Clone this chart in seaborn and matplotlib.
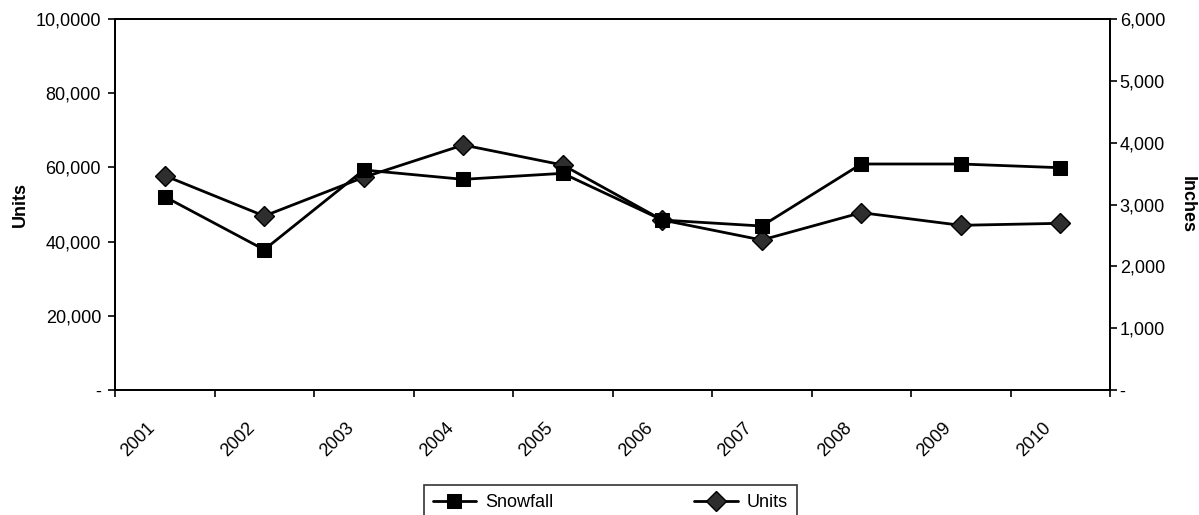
import numpy as np
import pandas as pd
import matplotlib
matplotlib.use("Agg")
import matplotlib.pyplot as plt
import matplotlib.transforms as mtransforms
import seaborn as sns

years = ["2001", "2002", "2003", "2004", "2005", "2006", "2007", "2008", "2009", "2010"]
snowfall_inches = [3126, 2269, 3558, 3407, 3504, 2749, 2652, 3655, 3655, 3595]
units = [57770, 46900, 57330, 66040, 60650, 45820, 40430, 47800, 44390, 44930]
left_ticks = [0, 20000, 40000, 60000, 80000, 100000]
left_labels = ["-", "20,000", "40,000", "60,000", "80,000", "10,0000"]
right_ticks = [0, 1000, 2000, 3000, 4000, 5000, 6000]
right_labels = ["-", "1,000", "2,000", "3,000", "4,000", "5,000", "6,000"]

sns.set_style("ticks")
plt.rcParams["font.family"] = ["Liberation Sans", "DejaVu Sans"]
plt.rcParams["text.color"] = "black"
plt.rcParams["axes.labelcolor"] = "black"
plt.rcParams["xtick.color"] = "black"
plt.rcParams["ytick.color"] = "black"
plt.rcParams["xtick.labelcolor"] = "black"
plt.rcParams["ytick.labelcolor"] = "black"

FS = 13

df = pd.DataFrame({"pos": np.arange(len(years)), "Year": years,
                   "Snowfall": snowfall_inches, "Units": units})

fig = plt.figure(figsize=(11.99, 5.15), dpi=100)
ax = fig.add_axes([115 / 1199, 1 - 390 / 515, (1110 - 115) / 1199, (390 - 19) / 515])
ax2 = ax.twinx()

sns.lineplot(data=df, x="pos", y="Units", ax=ax, color="black", linewidth=2.0,
             marker="D", markersize=10, markerfacecolor="#2e2e2e",
             markeredgecolor="black", markeredgewidth=1.0, label="Units", legend=False)
sns.lineplot(data=df, x="pos", y="Snowfall", ax=ax2, color="black", linewidth=2.0,
             marker="s", markersize=9.5, markerfacecolor="black",
             markeredgecolor="black", label="Snowfall", legend=False)

ax.set_xlim(-0.5, len(years) - 0.5)
ax.set_ylim(0, 100000)
ax2.set_ylim(0, 6000)

ax.set_xticks(np.arange(-0.5, len(years), 1.0))
ax.set_xticklabels([])
ax.set_xticks(np.arange(len(years)), minor=True)
ax.set_xticklabels(years, minor=True, rotation=45, ha="right", va="top",
                   rotation_mode="anchor", fontsize=FS)
ax.tick_params(axis="x", which="major", direction="out", length=5, width=1.2, color="black")
ax.tick_params(axis="x", which="minor", length=0, pad=21)
offset = mtransforms.ScaledTranslation(-18 / 100, 0, fig.dpi_scale_trans)
for lab in ax.get_xticklabels(minor=True):
    lab.set_transform(lab.get_transform() + offset)

ax.set_yticks(left_ticks)
ax.set_yticklabels(left_labels, fontsize=FS)
ax.tick_params(axis="y", direction="out", length=5, width=1.2, color="black", pad=5)
ax2.set_yticks(right_ticks)
ax2.set_yticklabels(right_labels, fontsize=FS)
ax2.tick_params(axis="y", direction="out", length=5, width=1.2, color="black", pad=2)

ax.set_xlabel("")
ax.set_ylabel("Units", fontsize=FS, fontweight="bold", labelpad=5)
ax2.set_ylabel("Inches", fontsize=FS, fontweight="bold", rotation=270, labelpad=22)

for a in (ax, ax2):
    for s in a.spines.values():
        s.set_visible(True)
        s.set_color("black")
        s.set_linewidth(1.3)

h1, l1 = ax.get_legend_handles_labels()
h2, l2 = ax2.get_legend_handles_labels()
leg = fig.legend(h2 + h1, l2 + l1, loc="upper center", bbox_to_anchor=(0.509, 0.076),
                 ncol=2, frameon=True, fancybox=False, edgecolor="black", fontsize=FS,
                 handlelength=2.4, handletextpad=0.5, columnspacing=7.8,
                 borderpad=0.5)
leg.get_frame().set_linewidth(1.2)

fig.savefig("out.png", dpi=100)
